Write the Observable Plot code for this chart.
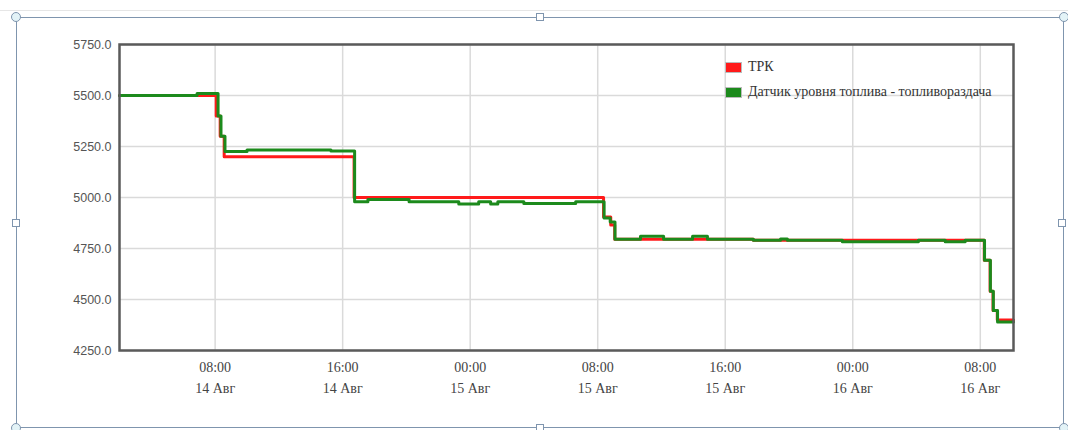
<!DOCTYPE html>
<html>
<head>
<meta charset="utf-8">
<script src="https://cdn.jsdelivr.net/npm/d3@7"></script>
<script src="https://cdn.jsdelivr.net/npm/@observablehq/plot@0.6"></script>
<style>
  html, body { margin: 0; padding: 0; background: #fff; }
  #wrap { position: relative; width: 1068px; height: 430px; overflow: hidden; background: #fff; }
  #chart { position: absolute; left: 0; top: 0; }
  .deco { position: absolute; pointer-events: none; }
  .legend { position: absolute; left: 725px; font-family: "Liberation Serif", serif; font-size: 14px; color: #333; display: flex; align-items: center; white-space: nowrap; }
  .legend .sw { width: 15px; height: 9px; border: 1px solid #bbb; margin-right: 6px; }
</style>
</head>
<body>
<div id="wrap">
  <div id="chart"></div>
</div>
<script>
// ---- data ----
const seriesNames = ["ТРК", "Датчик уровня топлива - топливораздача"];
const seriesColors = ["#ff1a1a", "#1c8a1c"];

const trkTimes = [
  "2023-08-14T02:00", "2023-08-14T08:04", "2023-08-14T08:19", "2023-08-14T08:34",
  "2023-08-14T16:43", "2023-08-15T08:22", "2023-08-15T08:49", "2023-08-15T09:04",
  "2023-08-15T17:46", "2023-08-16T08:15", "2023-08-16T08:37", "2023-08-16T08:48",
  "2023-08-16T09:04", "2023-08-16T10:05"
];
const trkValues = [5500, 5400, 5300, 5200, 5000, 4905, 4865, 4795, 4790, 4692, 4541, 4446, 4400, 4400];

const sensorTimes = [
  "2023-08-14T02:00", "2023-08-14T06:52", "2023-08-14T08:11", "2023-08-14T08:22",
  "2023-08-14T08:37", "2023-08-14T10:00", "2023-08-14T15:16", "2023-08-14T16:45",
  "2023-08-14T17:35", "2023-08-14T20:10", "2023-08-14T23:17", "2023-08-15T00:32",
  "2023-08-15T01:17", "2023-08-15T01:44", "2023-08-15T03:22", "2023-08-15T06:37",
  "2023-08-15T08:24", "2023-08-15T08:47", "2023-08-15T09:05", "2023-08-15T10:41",
  "2023-08-15T12:08", "2023-08-15T13:57", "2023-08-15T14:53", "2023-08-15T17:46",
  "2023-08-15T19:28", "2023-08-15T19:54", "2023-08-15T23:21", "2023-08-16T04:07",
  "2023-08-16T05:48", "2023-08-16T07:03", "2023-08-16T08:16", "2023-08-16T08:38",
  "2023-08-16T08:49", "2023-08-16T09:05", "2023-08-16T10:05"
];
const sensorValues = [
  5500, 5510, 5400, 5300, 5225, 5233, 5228, 4979,
  4990, 4979, 4968, 4979, 4968, 4979, 4970, 4979,
  4900, 4880, 4795, 4810, 4795, 4810, 4795, 4790,
  4797, 4790, 4783, 4790, 4783, 4790, 4692, 4541,
  4446, 4390, 4390
];

const xDomain = ["2023-08-14T02:00", "2023-08-16T10:05"];
const xTickTimes = [
  "2023-08-14T08:00", "2023-08-14T16:00", "2023-08-15T00:00", "2023-08-15T08:00",
  "2023-08-15T16:00", "2023-08-16T00:00", "2023-08-16T08:00"
];
const yTicks = [4250, 4500, 4750, 5000, 5250, 5500, 5750];
const monthLabel = "Авг";

// ---- build ----
const parse = s => new Date(s + "Z");
const trk = trkTimes.map((t, i) => ({ t: parse(t), v: trkValues[i] }));
const sensor = sensorTimes.map((t, i) => ({ t: parse(t), v: sensorValues[i] }));
const xTicks = xTickTimes.map(parse);
const fmtTime = d3.utcFormat("%H:%M");
const fmtDay = d3.utcFormat("%-d");

const chart = Plot.plot({
  width: 1068,
  height: 430,
  marginLeft: 119,
  marginRight: 55,
  marginTop: 44,
  marginBottom: 80,
  style: { fontFamily: "Liberation Serif, serif", fontSize: "14px", color: "#444", background: "transparent" },
  x: { type: "utc", domain: xDomain.map(parse) },
  y: { domain: [4250, 5750] },
  marks: [
    Plot.gridY(yTicks, { stroke: "#dadada", strokeOpacity: 1, strokeWidth: 1.5 }),
    Plot.gridX(xTicks, { stroke: "#dadada", strokeOpacity: 1, strokeWidth: 1.5 }),
    Plot.axisY(yTicks, {
      tickSize: 0, tickPadding: 8, tickFormat: d => d.toFixed(1),
      fontFamily: "Liberation Sans, sans-serif", fontSize: 12.5, fill: "#555", label: null
    }),
    Plot.axisX(xTicks, { tickSize: 0, tickPadding: 12, tickFormat: d => fmtTime(d), fill: "#444", label: null }),
    Plot.axisX(xTicks, { tickSize: 0, tickPadding: 33, tickFormat: d => fmtDay(d) + " " + monthLabel, fill: "#444", label: null }),
    Plot.line(trk, { x: "t", y: "v", curve: "step-after", stroke: seriesColors[0], strokeWidth: 3 }),
    Plot.line(sensor, { x: "t", y: "v", curve: "step-after", stroke: seriesColors[1], strokeWidth: 3 }),
    Plot.frame({ stroke: "#5a5a5a", strokeWidth: 2.5 })
  ]
});
document.getElementById("chart").appendChild(chart);

// ---- legend ----
const wrap = document.getElementById("wrap");
seriesNames.forEach((name, i) => {
  const el = document.createElement("div");
  el.className = "legend";
  el.style.top = (59 + i * 25) + "px";
  el.innerHTML = `<span class="sw" style="background:${seriesColors[i]}"></span><span>${name}</span>`;
  wrap.appendChild(el);
});

// ---- selection frame decoration ----
function deco(css) { const d = document.createElement("div"); d.className = "deco"; Object.assign(d.style, css); wrap.appendChild(d); }
deco({ left: "0px", top: "10px", width: "1068px", height: "0px", borderTop: "1px solid #e6e6e6" });
const L = 16, T = 17, R = 1064, B = 428;
deco({ left: L + "px", top: T + "px", width: (R - L) + "px", height: (B - T) + "px", border: "1.5px solid #7f95ae", boxSizing: "border-box" });
[[L, T], [R, T], [L, B], [R, B]].forEach(([x, y]) => deco({
  left: (x - 5) + "px", top: (y - 5) + "px", width: "10px", height: "10px", borderRadius: "50%",
  background: "#e3f3f7", border: "1px solid #7f95ae", boxSizing: "border-box"
}));
[[(L + R) / 2, T], [(L + R) / 2, B], [L, (T + B) / 2], [R - 2, (T + B) / 2]].forEach(([x, y]) => deco({
  left: (x - 4) + "px", top: (y - 4) + "px", width: "8px", height: "8px",
  background: "#fff", border: "1px solid #7f95ae", boxSizing: "border-box"
}));
</script>
</body>
</html>
